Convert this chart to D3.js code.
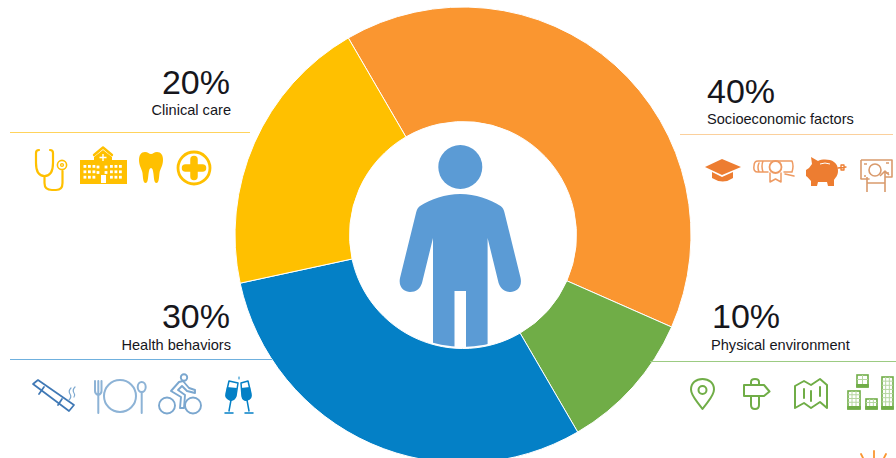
<!DOCTYPE html>
<html>
<head>
<meta charset="utf-8">
<script src="https://cdn.jsdelivr.net/npm/d3@7"></script>
<style>
  html, body { margin: 0; padding: 0; background: #fff; }
  svg { display: block; }
  text { font-family: "Liberation Sans", Arial, sans-serif; fill: #16161c; }
</style>
</head>
<body>
<svg id="chart" width="896" height="458"></svg>
<script>
// Determinants of health: share of each factor
const categories = ["Socioeconomic factors", "Physical environment", "Health behaviors", "Clinical care"];
const shares = [40, 10, 30, 20];
const sliceColors = ["#FA9630", "#70AD47", "#0480C6", "#FFC000"];
const ruleColors = ["#FBD09C", "#9CCB82", "#6FB0DE", "#FFD35C"];

const svg = d3.select("#chart");
const cx = 463, cy = 235, outerR = 228, innerR = 113.5;
const rotation = -30.2 * Math.PI / 180;

// Ring
const pie = d3.pie().sort(null).value(d => d)
  .startAngle(rotation).endAngle(rotation + 2 * Math.PI);
const arc = d3.arc().innerRadius(innerR).outerRadius(outerR);
svg.append("g").attr("transform", `translate(${cx},${cy})`)
  .selectAll("path").data(pie(shares)).join("path")
  .attr("d", arc)
  .attr("fill", (d, i) => sliceColors[i])
  .attr("stroke", "#fff").attr("stroke-width", 1);

// Person in the middle of the ring
svg.append("clipPath").attr("id", "hole")
  .append("circle").attr("cx", cx).attr("cy", cy).attr("r", 112);
const person = svg.append("g").attr("clip-path", "url(#hole)").attr("fill", "#5B9BD5");
person.append("circle").attr("cx", 460.3).attr("cy", 167).attr("r", 22);
person.append("path").attr("d",
  "M460.3 194 C445 194 431 199 420 206 Q417 208 416 213 L400 278 C398 288 405 292 410 292 " +
  "C416 292 420 289 422 283 L433 238 L433 350 L454.5 350 L454.5 291 L466 291 L466 350 L487.6 350 " +
  "L487.6 238 L498.6 283 C500.6 289 504.6 292 510.6 292 C515.6 292 522.6 288 520.6 278 " +
  "L504.6 213 Q503.6 208 500.6 206 C489.6 199 475.6 194 460.3 194 Z");

// Small line-art icons, one drawing routine per pictogram
function fine(g, color, w) {
  return g.append("g").attr("fill", "none").attr("stroke", color)
    .attr("stroke-width", w).attr("stroke-linecap", "round").attr("stroke-linejoin", "round");
}
const icons = {
  stethoscope(g, c) {
    const s = fine(g, c, 2.2);
    s.append("path").attr("d", "M39 150 Q36 150 36 153 L36 163 Q36 176 44.500 176 Q53 176 53 163 L53 153 Q53 150 50 150");
    s.append("path").attr("d", "M44.500 176 L44.500 183 Q44.500 190 52 190 L56 190 Q62.500 190 62.500 183 L62.500 171");
    s.append("circle").attr("cx", 62).attr("cy", 165).attr("r", 4.6).attr("stroke-width", 1.6);
    s.append("circle").attr("cx", 62).attr("cy", 165).attr("r", 1.4).attr("stroke-width", 1.4);
  },
  hospital(g, c) {
    g.append("path").attr("fill", c).attr("d", "M80 160 L94 160 L94 157 L103 150 L112 157 L112 160 L127 160 L127 184 L80 184 Z");
    fine(g, c, 2.4).append("path").attr("d", "M94 155 L103 147.500 L112 155");
    const white = g.append("g").attr("fill", "#fff");
    d3.range(3).forEach(r => d3.range(3).forEach(k => {
      white.append("rect").attr("x", 83.5 + k * 4.5).attr("y", 165 + r * 5.4).attr("width", 2.8).attr("height", 2.8);
      white.append("rect").attr("x", 110 + k * 4.5).attr("y", 165 + r * 5.4).attr("width", 2.8).attr("height", 2.8);
    }));
    [[98, 167], [106, 167], [98, 172.500], [106, 172.500]].forEach(p =>
      white.append("rect").attr("x", p[0] - 1.4).attr("y", p[1] - 1.4).attr("width", 2.8).attr("height", 2.8));
    white.append("rect").attr("x", 101).attr("y", 175).attr("width", 5).attr("height", 8);
    white.append("path").attr("d", "M103 154 L103 161 M99.500 157.500 L106.500 157.500").attr("stroke", "#fff").attr("stroke-width", 1.4);
  },
  tooth(g, c) {
    g.append("path").attr("fill", c).attr("d",
      "M145 152 C148 152 149 154 151 154 C153 154 154 152 157 152 C161 152 163 155 163 160 C163 166 160 169 159.500 173 " +
      "C159 177 159 183 156.500 183 C154 183 154 178 153.500 174 C153 170 152.500 168 151 168 C149.500 168 149 170 148.500 174 " +
      "C148 178 148 183 145.500 183 C143 183 143 177 142.500 173 C142 169 139 166 139 160 C139 155 141 152 145 152 Z");
  },
  plus(g, c) {
    g.append("circle").attr("cx", 194).attr("cy", 168).attr("r", 16).attr("fill", "none").attr("stroke", c).attr("stroke-width", 2.8);
    g.append("path").attr("fill", "none").attr("stroke", c).attr("stroke-width", 7.5).attr("stroke-linecap", "round")
      .attr("d", "M194 159.500 L194 176.500 M185.500 168 L202.500 168");
  },
  cigarette(g, c) {
    const s = fine(g, "#3F78B5", 1.7);
    s.append("path").attr("d", "M33 384 L38 380 L74 405 L69 411 Z");
    s.append("path").attr("d", "M44 387 L39 394 M62 399 L58 405");
    s.append("path").attr("d", "M71 388 Q68 391 70 394 Q72 397 69 400 M75 387 Q72 390 74 393 Q75.500 395 74 397").attr("stroke", "#7BA7CF").attr("stroke-width", 1.2);
  },
  plate(g, c) {
    const s = fine(g, "#8DB3D6", 2);
    s.append("path").attr("d", "M95 381 L95 391 Q95 394 98.300 395 Q101.500 394 101.500 391 L101.500 381 M98.300 381 L98.300 413");
    s.append("circle").attr("cx", 120).attr("cy", 396).attr("r", 16);
    s.append("ellipse").attr("cx", 141.7).attr("cy", 387).attr("rx", 4).attr("ry", 5);
    s.append("path").attr("d", "M141.700 392 L141.700 413");
  },
  cyclist(g, c) {
    const s = fine(g, "#7BA7CF", 1.9);
    s.append("circle").attr("cx", 167).attr("cy", 405.5).attr("r", 8);
    s.append("circle").attr("cx", 193).attr("cy", 405.5).attr("r", 8);
    s.append("circle").attr("cx", 184).attr("cy", 377.5).attr("r", 3.2);
    s.append("path").attr("d", "M179 382 L171 391 L181 397 L180 408 L184 408 L185 395 L178 390 L182 386 L187 391 L195 393 L195 390 L189 388 L183 381 Z");
  },
  flutes(g, c) {
    const s = fine(g, c, 1.5);
    s.append("path").attr("d", "M229 381 L238 383 L236 396 Q234 401 230 400 Q225 398 226 394 Z");
    s.append("path").attr("d", "M241 383 L248 381 L251 394 Q252 399 247 400 Q243 401 242 396 Z");
    s.append("path").attr("d", "M231 400 L229 411 M225 413 L233 413 M247 400 L249 411 M245 413 L253 413");
    g.append("path").attr("fill", c).attr("d", "M227 387 L237 388 L236 396 Q234 401 230 400 Q225 398 226 394 Z M241 388 L250 387 L251 394 Q252 399 247 400 Q243 401 242 396 Z");
    s.append("path").attr("d", "M239 377 L239 379").attr("stroke-width", 1);
  },
  mortarboard(g, c) {
    g.append("path").attr("fill", c).attr("d", "M705 167 L722 159 L741 167 L722 175 Z");
    g.append("path").attr("fill", c).attr("d", "M712 172 L722 177 L733 172 L733 178 Q723 185 712 178 Z");
  },
  diploma(g, c) {
    const s = fine(g, c, 1.5);
    s.append("path").attr("d", "M758 161 L792 161 Q794 166 792 172 L784 172 M768 172 L758 172 Q753 172 754 166 Q754 161 758 161 M759 163 Q757 167 759 172 M763 161 Q761 166 763 172 M785 174 L794 176");
    s.append("circle").attr("cx", 775.5).attr("cy", 167).attr("r", 6).attr("stroke-width", 1.8);
    s.append("path").attr("d", "M770 173 L770 182 L775.500 179 L781 182 L781 173");
  },
  piggy(g, c) {
    g.append("path").attr("fill", c).attr("d",
      "M811 157 L818 161 C822 159 830 159 834 162 C837 164 838 167 838 171 C838 176 835 178 834 180 L834 186 L828 186 L827 182 L818 182 L817 186 L811 186 L811 181 " +
      "C809 179 808 177 806 176 L806 170 L809 168 L812 164 Z");
    fine(g, c, 1.3).append("path").attr("d", "M838 168 L846 167 M841 165 L844 165 L844 170 L841 170 Z");
    g.append("path").attr("d", "M820 164 Q825 162 830 164").attr("fill", "none").attr("stroke", "#fff").attr("stroke-width", 1);
  },
  banknote(g, c) {
    const s = fine(g, c, 1.6).attr("stroke-linecap", "butt");
    s.append("path").attr("d", "M861 160 L892 160 L892 177 L885 177 M869 179 L861 179 Z");
    s.append("path").attr("d", "M861 160 L861 179");
    s.append("circle").attr("cx", 875).attr("cy", 170).attr("r", 6);
    s.append("path").attr("d", "M867 177 L867 192 M885 171 L885 192 M867 183 L885 183 M880 176 L885 171 L889 175");
    s.append("path").attr("d", "M864 164 L867 164 M886 173 L889 173 M864 176 L866 176 M886 163 L889 163");
  },
  pin(g, c) {
    const s = fine(g, c, 2);
    s.append("path").attr("d", "M702.500 409 C697 401 691 396 691 389.500 C691 383 696 379 702.500 379 C709 379 714 383 714 389.500 C714 396 708 401 702.500 409 Z");
    s.append("circle").attr("cx", 702.5).attr("cy", 390).attr("r", 4);
  },
  signpost(g, c) {
    const s = fine(g, c, 2);
    s.append("path").attr("d", "M744 385 L764 385 L769.500 391.500 L764 396 L744 396 Z");
    s.append("path").attr("d", "M751 385 L751 382 Q751 379 755 379 Q759 379 759 382 L759 385 M751 396 L751 405 Q751 409 755 409 Q759 409 759 405 L759 396");
  },
  map(g, c) {
    const s = fine(g, c, 2);
    s.append("path").attr("d", "M795 386 L804 381 L811 385 L820 379 L827 385 L827 408 L820 402 L811 408 L804 403 L795 408 Z");
    s.append("path").attr("d", "M804 389 L804 398 M811 391 L811 401 M820 387 L820 396");
  },
  buildings(g, c) {
    const tower = (x, y, w, h, rows, cols) => {
      const t = g.append("g");
      t.append("rect").attr("x", x).attr("y", y).attr("width", w).attr("height", h).attr("fill", "#fff")
        .attr("stroke", c).attr("stroke-width", 1.6);
      const grid = fine(t, "#B5D6A0", 1).attr("stroke-linecap", "butt");
      d3.range(1, cols).forEach(k => grid.append("path").attr("d", `M${x + k * w / cols} ${y} L${x + k * w / cols} ${y + h}`));
      d3.range(1, rows).forEach(k => grid.append("path").attr("d", `M${x} ${y + k * (h - 3) / rows} L${x + w} ${y + k * (h - 3) / rows}`));
      t.append("rect").attr("x", x - 0.8).attr("y", y + h - 3).attr("width", w + 1.6).attr("height", 3.5).attr("fill", c);
    };
    tower(848, 391, 12, 18, 4, 3);
    tower(866, 399, 11, 10, 2, 3);
    tower(882, 377, 11, 32, 7, 3);
    tower(857, 375, 11, 12, 2, 2);
  },
  rays(g, c) {
    fine(g, c, 1.8).append("path").attr("d", "M861 454 L863 458 M874 451 L874 458 M886 454 L884 458");
  }
};

// Text blocks, rule lines and icon sets around the ring
const placement = {
  "Clinical care": { anchor: "end", pctX: 230, x: 231, pctY: 94, labelY: 115, rule: [10, 250, 132.5], tint: "#FFC000", set: ["stethoscope", "hospital", "tooth", "plus"] },
  "Health behaviors": { anchor: "end", pctX: 230, x: 231, pctY: 328, labelY: 350, rule: [10, 272, 359.5], tint: "#6FA3CC", set: ["cigarette", "plate", "cyclist", "flutes"] },
  "Socioeconomic factors": { anchor: "start", pctX: 707, x: 707, pctY: 103, labelY: 124, rule: [680, 893, 134.5], tint: "#ED7D31", set: ["mortarboard", "diploma", "piggy", "banknote"] },
  "Physical environment": { anchor: "start", pctX: 712, x: 711, pctY: 328, labelY: 350, rule: [650, 896, 361.5], tint: "#70AD47", set: ["pin", "signpost", "map", "buildings"] }
};

categories.forEach((name, i) => {
  const p = placement[name];
  const block = svg.append("g");
  block.append("text").attr("x", p.pctX).attr("y", p.pctY).attr("text-anchor", p.anchor)
    .attr("font-size", 34).text(shares[i] + "%");
  block.append("text").attr("x", p.x).attr("y", p.labelY).attr("text-anchor", p.anchor)
    .attr("font-size", 14.6).text(name);
  block.append("line").attr("x1", p.rule[0]).attr("x2", p.rule[1]).attr("y1", p.rule[2]).attr("y2", p.rule[2])
    .attr("stroke", ruleColors[i]).attr("stroke-width", 1);
  p.set.forEach(key => icons[key](block.append("g"), key === "flutes" ? "#0480C6" : (key === "banknote" ? "#D99A6C" : (key === "diploma" ? "#EE9A62" : p.tint))));
});

icons.rays(svg.append("g"), "#FA9630");
</script>
</body>
</html>
